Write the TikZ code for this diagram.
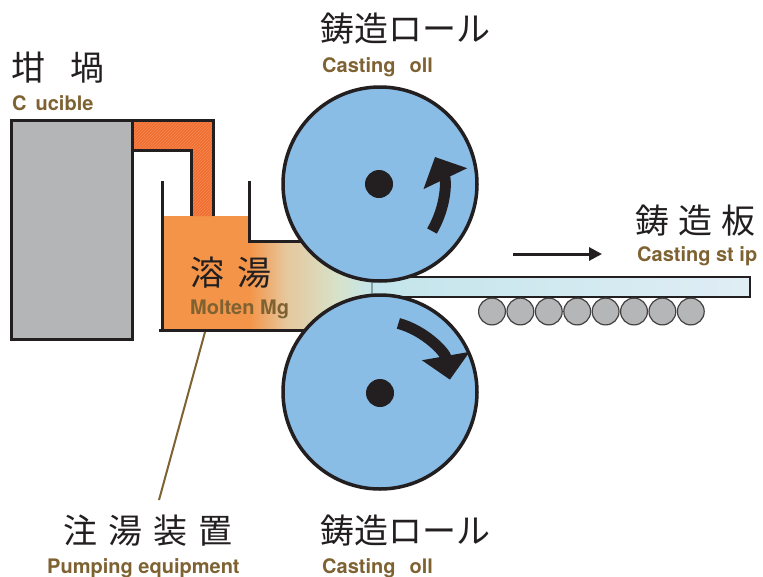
\documentclass[tikz,border=0pt]{standalone}
\usepackage{fontspec}
\setmainfont{TeX Gyre Heros}
\newfontfamily\jpfont{Noto Sans CJK JP}
\usetikzlibrary{arrows.meta}
\usetikzlibrary{patterns}

\definecolor{ink}{HTML}{231F20}
\definecolor{tagbrown}{HTML}{7E6232}
\definecolor{crucgray}{HTML}{B4B5B7}
\definecolor{pipeorange}{HTML}{F06E30}
\definecolor{pipestripe}{HTML}{F48A55}
\definecolor{melt}{HTML}{F49448}
\definecolor{meltmid}{HTML}{E6C79C}
\definecolor{meltpale}{HTML}{D6E3CC}
\definecolor{stripcyan}{HTML}{C3E5EB}
\definecolor{stripend}{HTML}{E0EDF5}
\definecolor{rollblue}{HTML}{89BDE6}
\definecolor{rollergray}{HTML}{B5B6B8}

\pgfdeclarehorizontalshading{meltflow}{100bp}{color(0bp)=(melt); color(25bp)=(melt);
  color(40bp)=(meltmid); color(62bp)=(meltpale); color(75bp)=(stripcyan); color(100bp)=(stripcyan)}

\begin{document}
\begin{tikzpicture}[x=1pt,y=-1pt,
  wall/.style={draw=ink,line width=3pt},
  roll/.style={draw=ink,line width=3.5pt,fill=rollblue},
  spin/.style={ink,line width=11pt,-{Triangle[length=24pt,width=47pt]}},
  jp/.style={inner sep=0pt,anchor=base west,text=ink,font=\jpfont\fontsize{34}{40}\selectfont},
  en/.style={inner sep=0pt,anchor=base west,text=tagbrown,font=\bfseries\fontsize{20}{24}\selectfont}]%twin roll caster
\useasboundingbox (0,0) rectangle (763,576);

% melt flowing into the roll gap
\fill[shading=meltflow] (249,241.5) rectangle (372,330.5);
\fill[melt] (162,216) rectangle (249.5,330.5);

% strip leaving the rolls
\fill[left color=stripcyan,right color=stripend] (372,277) rectangle (750,297);
\draw[wall,line width=2.5pt] (372,277) -- (750,277) -- (750,297) -- (372,297);
\draw[ink!35!stripcyan,line width=1.5pt] (372,279) -- (372,295);

% tundish
\draw[wall] (162,181) -- (162,330.5);
\draw[wall] (159,330.5) -- (310,330.5);
\draw[wall] (249.5,181) -- (249.5,241.5) -- (306,241.5);

% rolls
\draw[roll] (380,184) circle (97);
\draw[roll] (380,392) circle (97);
\fill[ink] (379,184) circle (14);
\fill[ink] (380,393) circle (14);
\draw[spin] (432,231) .. controls (447,205) and (446,180) .. (435,157);
\draw[spin] (380,392) ++(-75:71) arc[start angle=-75,end angle=-10,radius=71];

% feed pipe
\path[preaction={fill=pipeorange},pattern=north east lines,pattern color=pipestripe]
  (132,120) -- (213,120) -- (213,216) -- (191,216) -- (191,150.5) -- (132,150.5) -- cycle;
\draw[wall] (132,120) -- (213,120) -- (213,216);
\draw[wall] (132,150.5) -- (191,150.5) -- (191,216);

% crucible
\draw[wall,fill=crucgray] (11.5,120) rectangle (132,339);

% table rollers
\foreach \i in {0,...,7}
  \draw[draw=ink!85,line width=1.2pt,fill=rollergray] ({492+28.4*\i},311.5) circle (13.4);

\draw[ink,line width=3pt,-{Triangle[length=13pt,width=13pt]}] (513,254) -- (602,254);

% labels
\node[jp] (crucjp) at (11,80) {坩\hspace{25pt}堝};
\node[en] (crucen) at (12,110) {C\hspace{9pt}ucible};
\node[jp] (topjp) at (320,41) {鋳造ロール};
\node[en] (topen) at (322,72) {Casting\hspace{14pt}oll};
\node[jp] (stripjp) at (635,233) {鋳\hspace{9pt}造\hspace{9pt}板};
\node[en] (stripen) at (637,261) {Casting st ip};
\node[jp] (meltjp) at (190,285) {溶\hspace{13pt}湯};
\node[en] (melten) at (190,314) {Molten Mg};
\node[jp] (pumpjp) at (63,543) {注\hspace{11pt}湯\hspace{11pt}装\hspace{11pt}置};
\node[en] (pumpen) at (47,573) {Pumping equipment};
\node[jp] (lowjp) at (320,543) {鋳造ロール};
\node[en] (lowen) at (322,573) {Casting\hspace{14pt}oll};

\coordinate (leadtop) at (205,332);
\coordinate (leadfoot) at (159,500);
\draw[tagbrown,line width=2pt] (leadtop) -- (leadfoot);
\end{tikzpicture}
\end{document}
